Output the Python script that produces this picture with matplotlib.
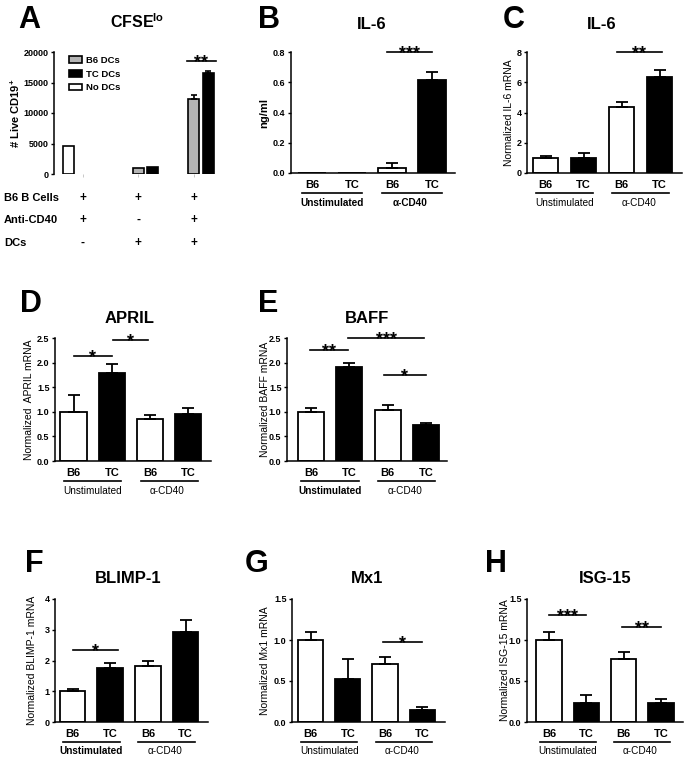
import matplotlib
matplotlib.use("Agg")
import matplotlib.pyplot as plt
import numpy as np
from matplotlib.patches import Patch
from matplotlib.transforms import blended_transform_factory

plt.rcParams['font.family'] = ['Liberation Sans', 'DejaVu Sans']
plt.rcParams['mathtext.fontset'] = 'custom'
plt.rcParams['mathtext.rm'] = 'Liberation Sans'
plt.rcParams['mathtext.bf'] = 'Liberation Sans:bold'

W, H = 684, 760

# ---- panel A data ----
a_legend = ["B6 DCs", "TC DCs", "No DCs"]
a_b6 = [np.nan, 950, 12300]
a_b6_err = [0, 0, 600]
a_tc = [np.nan, 1150, 16500]
a_tc_err = [0, 0, 450]
a_nodc = [4650, np.nan, np.nan]
a_rows = ["B6 B Cells", "Anti-CD40", "DCs"]
a_signs = [["+", "+", "+"], ["+", "-", "+"], ["-", "+", "+"]]

# ---- panels B-H data ----
conds = ["B6", "TC", "B6", "TC"]
groups = ["Unstimulated", "\u03b1-CD40"]

il6_prot = [0, 0, 0.03, 0.615]
il6_prot_err = [0, 0, 0.035, 0.055]
il6_mrna = [1.0, 1.0, 4.37, 6.38]
il6_mrna_err = [0.12, 0.35, 0.3, 0.44]
april = [1.0, 1.78, 0.85, 0.95]
april_err = [0.35, 0.19, 0.08, 0.12]
baff = [1.0, 1.91, 1.04, 0.74]
baff_err = [0.08, 0.09, 0.09, 0.04]
blimp1 = [1.0, 1.75, 1.82, 2.94]
blimp1_err = [0.06, 0.18, 0.15, 0.38]
mx1 = [1.0, 0.52, 0.71, 0.15]
mx1_err = [0.1, 0.25, 0.08, 0.03]
isg15 = [1.0, 0.23, 0.77, 0.23]
isg15_err = [0.1, 0.1, 0.08, 0.05]

fig = plt.figure(figsize=(W / 100, H / 100), dpi=100)


def px_axes(left, top, right, bottom):
    return fig.add_axes([left / W, 1 - bottom / H, (right - left) / W, (bottom - top) / H])


def ftext(x, y, s, **kw):
    fig.text(x / W, 1 - y / H, s, **kw)


def style_y(ax, ticks, fmt):
    ax.spines['top'].set_visible(False)
    ax.spines['right'].set_visible(False)
    ax.spines['left'].set_linewidth(1.1)
    ax.spines['bottom'].set_linewidth(1.1)
    ax.set_yticks(ticks, [fmt.format(t) for t in ticks], fontsize=6.5, fontweight='bold')
    ax.tick_params(axis='y', length=2.5, width=1, pad=1.5)
    ax.set_ylim(ticks[0], ticks[-1])


def sig(ax, x0, x1, y, stars, fs=13):
    ax.plot([x0, x1], [y, y], color='black', lw=1.2, clip_on=False)
    ax.annotate(stars, xy=((x0 + x1) / 2, y), xytext=(0, -0.33 * fs), textcoords='offset points',
                ha='center', va='baseline', fontsize=fs, fontweight='bold', annotation_clip=False)


# ---------------- panel A ----------------
axA = px_axes(54, 52, 225, 174)
x = np.arange(3)
for vals, errs, off, col in [(a_nodc, [0, 0, 0], -0.26, 'white'),
                             (a_b6, a_b6_err, 0.0, '#b4b4b4'),
                             (a_tc, a_tc_err, 0.26, 'black')]:
    idx = [i for i in range(3) if not np.isnan(vals[i])]
    axA.bar(x[idx] + off, [vals[i] for i in idx], 0.2, color=col, edgecolor='black', linewidth=1.2)
    e_idx = [i for i in idx if errs[i] > 0]
    if e_idx:
        axA.errorbar(x[e_idx] + off, [vals[i] for i in e_idx],
                     yerr=[[0] * len(e_idx), [errs[i] for i in e_idx]],
                     fmt='none', ecolor='black', elinewidth=1.2, capsize=2.5, capthick=1.2)
style_y(axA, [0, 5000, 10000, 15000, 20000], "{:d}")
axA.spines['bottom'].set_visible(False)
axA.set_xlim(-0.52, 2.56)
axA.set_xticks(x, [])
axA.tick_params(axis='x', length=2, width=0.6, color='0.75')
sig(axA, 1.87, 2.40, 18500, "**")

handles = [Patch(facecolor='#b4b4b4', edgecolor='black', lw=1.2, label=a_legend[0]),
           Patch(facecolor='black', edgecolor='black', lw=1.2, label=a_legend[1]),
           Patch(facecolor='white', edgecolor='black', lw=1.2, label=a_legend[2])]
fig.legend(handles=handles, loc='upper left', bbox_to_anchor=(69 / W, 1 - 56 / H),
           frameon=False, prop={'weight': 'bold', 'size': 6.8}, handlelength=1.4,
           handleheight=0.7, handletextpad=0.45, labelspacing=0.5, borderpad=0, borderaxespad=0)

ftext(18, 28, "A", fontsize=22, fontweight='bold', va='baseline')
ftext(137, 28, r"CFSE$^{\mathbf{lo}}$", fontsize=11.5, fontweight='bold', va='baseline', ha='center')
ftext(15, 113, r"# Live CD19$^{\mathbf{+}}$", fontsize=8, fontweight='bold', rotation=90,
      ha='center', va='center')

trA = blended_transform_factory(axA.transData, fig.transFigure)
for r, (lab, row_y) in enumerate(zip(a_rows, [198, 220, 243])):
    ftext(4, row_y, lab, fontsize=8, fontweight='bold', va='center', ha='left')
    for i, s in enumerate(a_signs[r]):
        axA.text(i, 1 - row_y / H, s, transform=trA, fontsize=8.5, fontweight='bold',
                 ha='center', va='center')

# ---------------- panels B-H ----------------
panels = [
    dict(letter="B", title="IL-6", ylabel="ng/ml", yl_bold=True, vals=il6_prot, errs=il6_prot_err,
         ticks=[0, 0.2, 0.4, 0.6, 0.8], fmt="{:.1f}", box=(291, 52, 455, 173), first=312, sp=40,
         ylx=264, lpos=(258, 28), tpos=(372, 29), gbold=(True, True),
         sigs=[(1.88, 3.0, 0.8, "***")]),
    dict(letter="C", title="IL-6", ylabel="Normalized IL-6 mRNA", yl_bold=False, vals=il6_mrna,
         errs=il6_mrna_err, ticks=[0, 2, 4, 6, 8], fmt="{:d}", box=(527, 52, 682, 173), first=545.5,
         sp=38, ylx=509, lpos=(503, 28), tpos=(602, 29), gbold=(False, False),
         sigs=[(1.88, 3.06, 8.0, "**")]),
    dict(letter="D", title="APRIL", ylabel="Normalized  APRIL mRNA", yl_bold=False, vals=april,
         errs=april_err, ticks=[0, 0.5, 1.0, 1.5, 2.0, 2.5], fmt="{:.1f}", box=(55, 338, 211, 461),
         first=73.5, sp=38.3, ylx=29, lpos=(20, 312), tpos=(130, 323), gbold=(False, False),
         sigs=[(0.0, 1.0, 2.13, "*"), (1.03, 1.94, 2.46, "*")]),
    dict(letter="E", title="BAFF", ylabel="Normalized BAFF mRNA", yl_bold=False, vals=baff,
         errs=baff_err, ticks=[0, 0.5, 1.0, 1.5, 2.0, 2.5], fmt="{:.1f}", box=(287, 338, 447, 461),
         first=311, sp=38.3, ylx=265, lpos=(258, 312), tpos=(367, 323), gbold=(True, False),
         sigs=[(-0.03, 0.96, 2.25, "**"), (0.96, 2.96, 2.49, "***"), (1.9, 2.99, 1.74, "*")]),
    dict(letter="F", title="BLIMP-1", ylabel="Normalized BLIMP-1 mRNA", yl_bold=False, vals=blimp1,
         errs=blimp1_err, ticks=[0, 1, 2, 3, 4], fmt="{:d}", box=(55, 599, 208, 722), first=72.5,
         sp=37.7, ylx=32, lpos=(25, 572), tpos=(128, 583), gbold=(True, False),
         sigs=[(0.01, 1.2, 2.35, "*")]),
    dict(letter="G", title="Mx1", ylabel="Normalized Mx1 mRNA", yl_bold=False, vals=mx1,
         errs=mx1_err, ticks=[0, 0.5, 1.0, 1.5], fmt="{:.1f}", box=(292, 599, 445, 722), first=310.5,
         sp=37.3, ylx=265, lpos=(245, 572), tpos=(367, 583), gbold=(False, False),
         sigs=[(1.94, 2.99, 0.97, "*")]),
    dict(letter="H", title="ISG-15", ylabel="Normalized ISG-15 mRNA", yl_bold=False, vals=isg15,
         errs=isg15_err, ticks=[0, 0.5, 1.0, 1.5], fmt="{:.1f}", box=(527, 599, 683, 722), first=549,
         sp=37.3, ylx=505, lpos=(485, 572), tpos=(605, 583), gbold=(False, False),
         sigs=[(0.0, 1.0, 1.3, "***"), (1.96, 3.0, 1.16, "**")]),
]

colors = ['white', 'black', 'white', 'black']
for p in panels:
    left, top, right, bottom = p['box']
    ax = px_axes(left, top, right, bottom)
    hpx = bottom - top
    xs = np.arange(4)
    ax.bar(xs, p['vals'], 0.68, color=colors, edgecolor='black', linewidth=1.3)
    e_idx = [i for i in range(4) if p['errs'][i] > 0]
    ax.errorbar(xs[e_idx], [p['vals'][i] for i in e_idx],
                yerr=[[0] * len(e_idx), [p['errs'][i] for i in e_idx]],
                fmt='none', ecolor='black', elinewidth=1.3, capsize=4.5, capthick=1.3)
    style_y(ax, p['ticks'], p['fmt'])
    ax.set_xlim((left - p['first']) / p['sp'], (right - p['first']) / p['sp'])
    ax.set_xticks([])
    tr = ax.get_xaxis_transform()
    for i, c in enumerate(conds):
        ax.text(i, -12 / hpx, c, transform=tr, ha='center', va='center', fontsize=8,
                fontweight='bold')
    for (g0, g1), gx, g, gb in zip([(-0.25, 1.25), (1.75, 3.25)], [0.5, 2.45], groups, p['gbold']):
        ax.plot([g0, g1], [-19.5 / hpx] * 2, transform=tr, color='black', lw=1.2, clip_on=False)
        ax.text(gx, -29.5 / hpx, g, transform=tr, ha='center', va='center', fontsize=7.2,
                fontweight='bold' if gb else 'normal')
    for s in p['sigs']:
        sig(ax, *s)
    ftext(p['lpos'][0], p['lpos'][1], p['letter'], fontsize=22, fontweight='bold', va='baseline')
    ftext(p['tpos'][0], p['tpos'][1], p['title'], fontsize=12, fontweight='bold', va='baseline',
          ha='center')
    ftext(p['ylx'], (top + bottom) / 2, p['ylabel'], rotation=90, ha='center', va='center',
          fontsize=8 if p['yl_bold'] else 7.5, fontweight='bold' if p['yl_bold'] else 'normal')

fig.savefig("out.png", dpi=100)
